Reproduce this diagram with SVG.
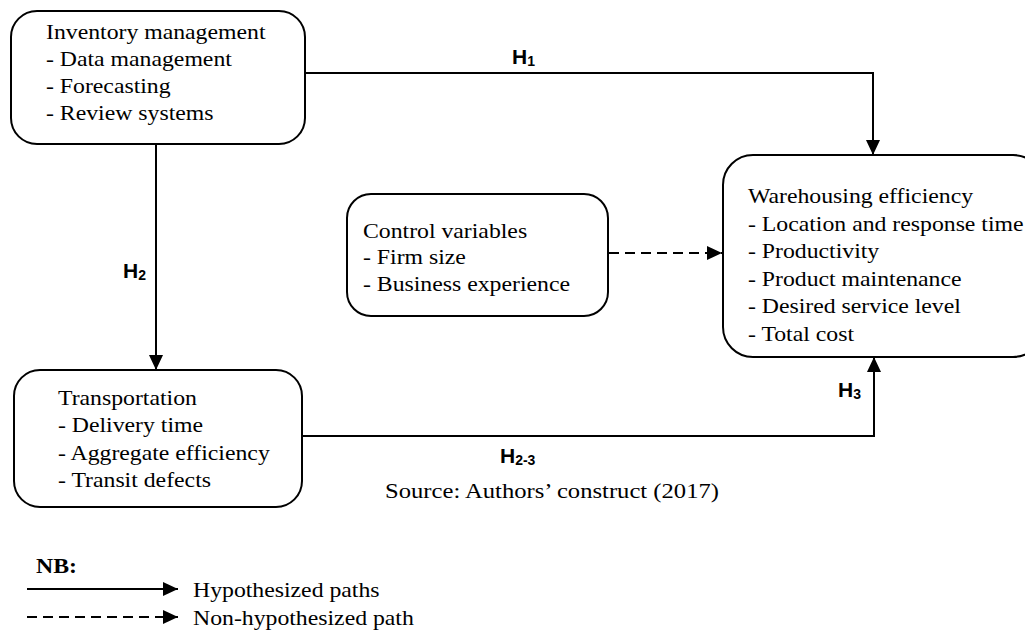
<svg xmlns="http://www.w3.org/2000/svg" width="1025" height="633" viewBox="0 0 1025 633">
<style>
.box{fill:#fff;stroke:#000;stroke-width:2}
.t{font-family:"Liberation Serif","Times New Roman",serif;font-size:22px;fill:#000}
.lbl{font-family:"Liberation Sans",Arial,sans-serif;font-size:21px;font-weight:bold;fill:#000}
.sub{font-size:14px}
.ln{fill:none;stroke:#000;stroke-width:2}
.dash{stroke-dasharray:10 6}
</style>
<defs>
<marker id="ah" markerUnits="userSpaceOnUse" markerWidth="16" markerHeight="14" refX="15" refY="7" orient="auto">
<path d="M0,0 L15,7 L0,14 z" fill="#000"/>
</marker>
</defs>
<rect width="1025" height="633" fill="#fff"/>

<g id="connectors">
<polyline class="ln" points="305,73 873,73 873,155" marker-end="url(#ah)"/>
<line class="ln" x1="156" y1="144" x2="156" y2="370" marker-end="url(#ah)"/>
<polyline class="ln" points="302,436 874,436 874,357" marker-end="url(#ah)"/>
<line class="ln dash" x1="609" y1="253" x2="722" y2="253" marker-end="url(#ah)"/>
<text class="lbl" x="512" y="64">H<tspan class="sub" dy="2">1</tspan></text>
<text class="lbl" x="123" y="278">H<tspan class="sub" dy="2">2</tspan></text>
<text class="lbl" x="838" y="397">H<tspan class="sub" dy="2">3</tspan></text>
<text class="lbl" x="500" y="463">H<tspan class="sub" dy="2">2-3</tspan></text>
</g>

<g id="inventory">
<rect class="box" x="11" y="11" width="294" height="133" rx="26"/>
<text class="t" transform="translate(46,0) scale(1.08,1)"><tspan x="0" y="39">Inventory management</tspan><tspan x="0" y="66">- Data management</tspan><tspan x="0" y="93">- Forecasting</tspan><tspan x="0" y="120">- Review systems</tspan></text>
</g>

<g id="transportation">
<rect class="box" x="14" y="370" width="288" height="137" rx="26"/>
<text class="t" transform="translate(58,0) scale(1.08,1)"><tspan x="0" y="405">Transportation</tspan><tspan x="0" y="432">- Delivery time</tspan><tspan x="0" y="460">- Aggregate efficiency</tspan><tspan x="0" y="487">- Transit defects</tspan></text>
</g>

<g id="control">
<rect class="box" x="347" y="194" width="261" height="122" rx="24"/>
<text class="t" transform="translate(363,0) scale(1.08,1)"><tspan x="0" y="238">Control variables</tspan><tspan x="0" y="264">- Firm size</tspan><tspan x="0" y="291">- Business experience</tspan></text>
</g>

<g id="warehousing">
<rect class="box" x="723" y="155" width="320" height="202" rx="30"/>
<text class="t" transform="translate(748,0) scale(1.08,1)"><tspan x="0" y="203">Warehousing efficiency</tspan><tspan x="0" y="231">- Location and response time</tspan><tspan x="0" y="258">- Productivity</tspan><tspan x="0" y="286">- Product maintenance</tspan><tspan x="0" y="313">- Desired service level</tspan><tspan x="0" y="341">- Total cost</tspan></text>
</g>

<g id="source">
<text class="t" transform="translate(385,0) scale(1.12,1)" x="0" y="498">Source: Authors’ construct (2017)</text>
</g>

<g id="legend">
<text class="t" font-weight="bold" transform="translate(36,0) scale(1.08,1)" x="0" y="573">NB:</text>
<line class="ln" x1="27" y1="589" x2="178" y2="589" marker-end="url(#ah)"/>
<line class="ln dash" x1="27" y1="617" x2="178" y2="617" marker-end="url(#ah)"/>
<text class="t" transform="translate(193,0) scale(1.08,1)" x="0" y="597">Hypothesized paths</text>
<text class="t" transform="translate(193,0) scale(1.08,1)" x="0" y="625">Non-hypothesized path</text>
</g>
</svg>
